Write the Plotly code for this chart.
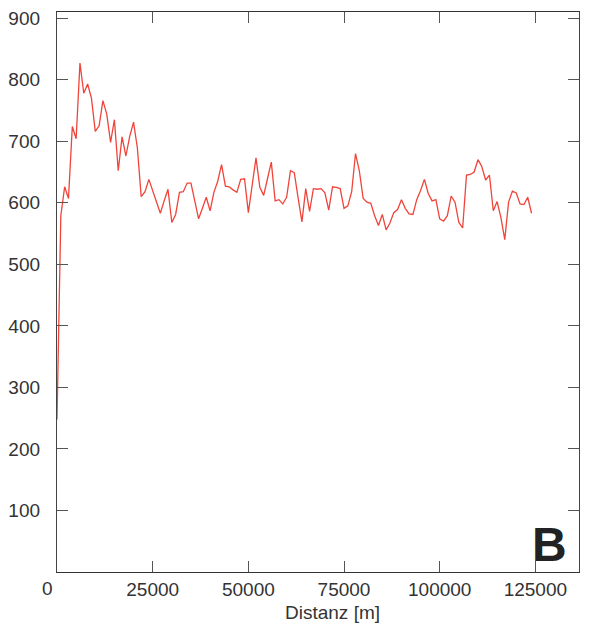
import plotly.graph_objects as go

distance_m = [i * 1000 for i in range(125)]
values = [
    248, 579, 626, 607, 724, 704, 827, 778, 793, 770,
    716, 725, 766, 744, 698, 735, 652, 707, 676, 708,
    731, 689, 610, 618, 638, 620, 602, 583, 603, 622,
    568, 581, 617, 618, 632, 632, 603, 574, 591, 609,
    587, 617, 635, 662, 627, 626, 621, 617, 638, 639,
    584, 628, 673, 625, 612, 639, 666, 603, 605, 598,
    609, 652, 649, 608, 569, 623, 586, 623, 622, 623,
    616, 588, 626, 625, 623, 591, 595, 618, 680, 652,
    607, 601, 599, 579, 563, 581, 556, 567, 584, 589,
    605, 591, 582, 581, 605, 620, 638, 615, 603, 605,
    574, 570, 579, 611, 601, 568, 559, 645, 646, 650,
    670, 659, 637, 645, 587, 602, 576, 540, 601, 619,
    616, 598, 597, 609, 583,
]
x_ticks = [25000, 50000, 75000, 100000, 125000]
y_ticks = [100, 200, 300, 400, 500, 600, 700, 800, 900]
x_title = "Distanz [m]"
panel_label = "B"

FONT = "Liberation Sans, Arial, sans-serif"
TXT = "#333333"

fig = go.Figure()
fig.add_trace(go.Scatter(x=distance_m, y=values, mode="lines",
                         line=dict(color="#f0443a", width=1.3),
                         showlegend=False, hoverinfo="skip"))

fig.update_layout(
    width=593, height=631,
    margin=dict(l=57, r=14, t=8, b=59),
    plot_bgcolor="white", paper_bgcolor="white",
    font=dict(family=FONT, size=19, color=TXT),
    xaxis=dict(range=[0, 136400], tickvals=x_ticks, ticktext=[str(v) for v in x_ticks],
               ticks="inside", ticklen=11, tickcolor="#555", tickwidth=1,
               showline=True, linecolor="#333", linewidth=1.3, mirror="ticks",
               showgrid=False, zeroline=False,
               tickfont=dict(family=FONT, size=19, color=TXT)),
    yaxis=dict(range=[0, 910], tickvals=y_ticks, ticktext=[str(v) for v in y_ticks],
               ticks="inside", ticklen=11, tickcolor="#555", tickwidth=1,
               showline=True, linecolor="#444", linewidth=1.3, mirror="ticks",
               showgrid=False, zeroline=False, ticklabelstandoff=12,
               tickfont=dict(family=FONT, size=19, color=TXT)),
)

fig.add_annotation(text="0", xref="paper", yref="paper", x=0, y=0,
                   xshift=-10, yshift=-4, xanchor="center", yanchor="top",
                   showarrow=False, font=dict(family=FONT, size=19, color=TXT))
fig.add_annotation(text=x_title, xref="paper", yref="paper", x=0.5286, y=0,
                   yshift=-28, xanchor="center", yanchor="top",
                   showarrow=False, font=dict(family=FONT, size=19, color=TXT))
fig.add_annotation(text="<b>" + panel_label + "</b>", xref="paper", yref="paper",
                   x=(549 - 57) / 522, y=(631 - 59 - 544) / 564,
                   xanchor="center", yanchor="middle", showarrow=False,
                   font=dict(family=FONT, size=48, color="#222222"))

fig.write_html("out.html")
